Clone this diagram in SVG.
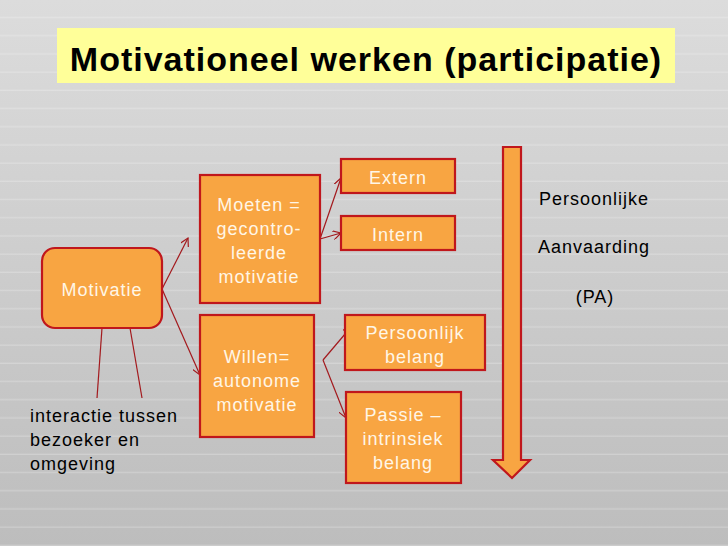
<svg xmlns="http://www.w3.org/2000/svg" width="728" height="546" viewBox="0 0 728 546">
<defs>
<linearGradient id="bg" x1="0" y1="0" x2="0" y2="1">
<stop offset="0" stop-color="#dcdcdc"/>
<stop offset="1" stop-color="#bdbdbd"/>
</linearGradient>
<pattern id="stripes" patternUnits="userSpaceOnUse" width="728" height="18.2">
<rect x="0" y="16.9" width="728" height="1.2" fill="#ffffff" opacity="0.25"/>
</pattern>
<marker id="arr" viewBox="0 0 10 10" refX="9" refY="5" markerWidth="9" markerHeight="9" markerUnits="userSpaceOnUse" orient="auto">
<path d="M0,0 L9,5 L0,10" fill="none" stroke="#a3191d" stroke-width="1.3"/>
</marker>
<style>
.box{fill:#f8a542;stroke:#c0171c;stroke-width:2.2}
.bt{font-family:"Liberation Sans",Arial,sans-serif;font-size:18px;letter-spacing:1px;fill:#fff6e6;text-anchor:middle}
.dt{font-family:"Liberation Sans",Arial,sans-serif;font-size:18px;letter-spacing:1px;fill:#000}
.con{stroke:#a3191d;stroke-width:1.2;fill:none}
</style>
</defs>
<rect width="728" height="546" fill="url(#bg)"/>
<rect width="728" height="546" fill="url(#stripes)"/>

<g id="title">
<rect x="57" y="28" width="618" height="55" fill="#ffff99"/>
<text x="366" y="71" text-anchor="middle" font-family="'Liberation Sans',Arial,sans-serif" font-weight="bold" font-size="34" letter-spacing="1" fill="#000">Motivationeel werken (participatie)</text>
</g>

<g id="connectors">
<line class="con" x1="162" y1="289" x2="188" y2="238" marker-end="url(#arr)"/>
<line class="con" x1="162" y1="289" x2="200" y2="375" marker-end="url(#arr)"/>
<line class="con" x1="320" y1="239" x2="341" y2="178" marker-end="url(#arr)"/>
<line class="con" x1="320" y1="239" x2="341" y2="233" marker-end="url(#arr)"/>
<line class="con" x1="323" y1="360" x2="351" y2="327" marker-end="url(#arr)"/>
<line class="con" x1="323" y1="360" x2="346" y2="418" marker-end="url(#arr)"/>
<line class="con" x1="102" y1="328" x2="97" y2="398"/>
<line class="con" x1="130" y1="328" x2="142" y2="398"/>
</g>

<g id="motivatie">
<rect class="box" x="42" y="248" width="120" height="80" rx="13"/>
<text class="bt" x="102" y="296">Motivatie</text>
</g>

<g id="moeten">
<rect class="box" x="200" y="175" width="120" height="128"/>
<text class="bt" x="259" y="211">Moeten =</text>
<text class="bt" x="259" y="235">gecontro-</text>
<text class="bt" x="259" y="259">leerde</text>
<text class="bt" x="259" y="283">motivatie</text>
</g>

<g id="willen">
<rect class="box" x="200" y="315" width="114" height="122"/>
<text class="bt" x="257" y="363">Willen=</text>
<text class="bt" x="257" y="387">autonome</text>
<text class="bt" x="257" y="411">motivatie</text>
</g>

<g id="extern">
<rect class="box" x="341" y="159" width="114" height="34"/>
<text class="bt" x="398" y="184">Extern</text>
</g>

<g id="intern">
<rect class="box" x="341" y="216" width="114" height="34"/>
<text class="bt" x="398" y="241">Intern</text>
</g>

<g id="persoonlijk">
<rect class="box" x="345" y="315" width="140" height="55"/>
<text class="bt" x="415" y="339">Persoonlijk</text>
<text class="bt" x="415" y="363">belang</text>
</g>

<g id="passie">
<rect class="box" x="346" y="392" width="115" height="91"/>
<text class="bt" x="403" y="421">Passie –</text>
<text class="bt" x="403" y="445">intrinsiek</text>
<text class="bt" x="403" y="469">belang</text>
</g>

<g id="bigarrow">
<path d="M503,147 L521,147 L521,460 L530,460 L512,478 L493,460 L503,460 Z" class="box"/>
</g>

<g id="pa">
<text class="dt" x="594" y="205" text-anchor="middle">Persoonlijke</text>
<text class="dt" x="594" y="253" text-anchor="middle">Aanvaarding</text>
<text class="dt" x="595" y="303" text-anchor="middle">(PA)</text>
</g>

<g id="interactie">
<text class="dt" x="30" y="422">interactie tussen</text>
<text class="dt" x="30" y="446">bezoeker en</text>
<text class="dt" x="30" y="470">omgeving</text>
</g>
</svg>
